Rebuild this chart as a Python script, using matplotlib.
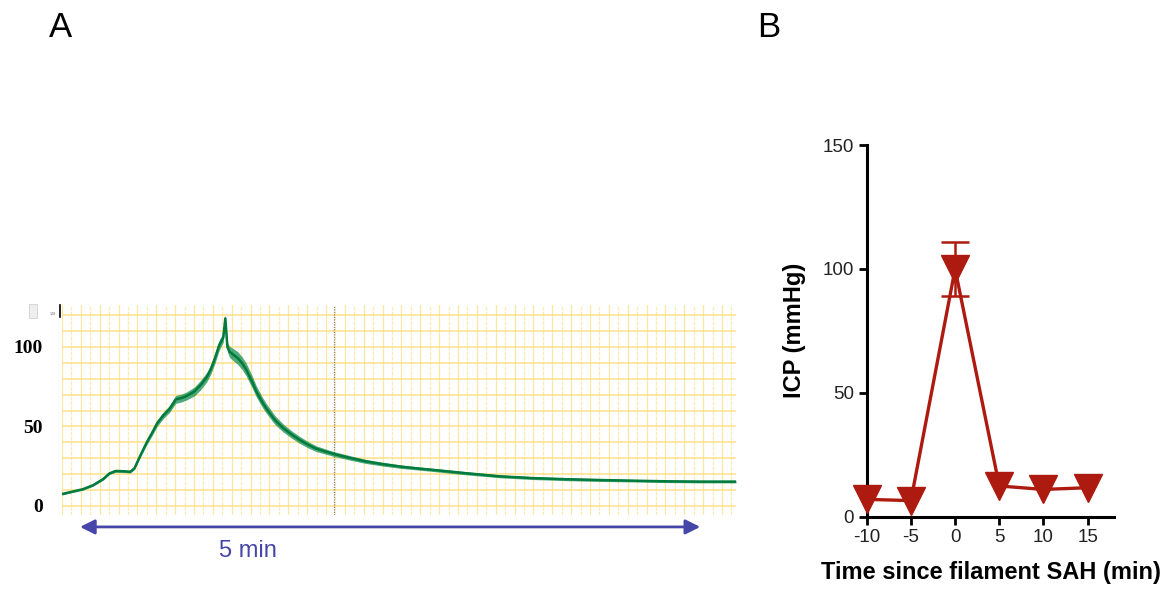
import matplotlib
matplotlib.use('Agg')
import matplotlib.pyplot as plt
from matplotlib.patches import Rectangle
from matplotlib.lines import Line2D
import numpy as np

plt.rcParams['font.family'] = ['Liberation Sans', 'DejaVu Sans']
plt.rcParams['axes.unicode_minus'] = False

# Panel A: ICP trace (time in s, pressure in mmHg)
trace_t = [0, 5, 10, 15, 20, 23, 26, 30, 33, 35, 38, 41, 44, 46, 49, 52, 55, 58,
           60, 64, 67, 70, 72, 74, 76, 78, 79, 80, 81, 83, 85, 87, 89, 92, 94,
           97, 99, 103, 107, 111, 115, 119, 123, 128, 132, 140, 147, 155, 164,
           172, 180, 196, 212, 228, 244, 260, 276, 292, 309, 326]
trace_v = [7.5, 9, 10.5, 13, 17, 20.5, 22, 21.8, 21.5, 23.6, 32, 40, 47, 52, 57,
           61, 67, 68, 69, 72, 76, 81, 86, 93, 101, 106, 118, 100, 97, 95, 93, 90,
           86, 78, 72, 65, 61, 54, 49, 45, 41.5, 38.5, 36, 34, 32.5, 30, 28, 26.3,
           24.7, 23.6, 22.6, 20.5, 18.6, 17.5, 16.8, 16.3, 15.9, 15.5, 15.3, 15.3]
# half-width of the noisy band around the trace
trace_noise = [0.6, 0.6, 0.6, 0.6, 0.7, 0.7, 0.8, 0.8, 0.8, 0.8, 1.2, 1.5, 1.8, 2.0, 2.0,
               2.2, 2.5, 2.5, 2.5, 2.8, 3.0, 3.0, 3.0, 3.2, 3.2, 3.0, 1.5, 3.0, 3.5, 3.8, 4.0, 4.0,
               4.0, 3.8, 3.5, 3.2, 3.0, 2.8, 2.5, 2.3, 2.2, 2.0, 1.8, 1.6, 1.5, 1.4, 1.3, 1.2,
               1.1, 1.0, 1.0, 1.0, 0.9, 0.9, 0.9, 0.9, 0.8, 0.8, 0.8, 0.8]
a_yticks = [0, 50, 100]
marker_t = 131.7      # dotted event marker
scale_bar = (8.7, 308.7)   # 5 min arrow

# Panel B: mean ICP +/- SEM
b_time = [-10, -5, 0, 5, 10, 15]
b_icp = [7.0, 6.5, 100, 12.4, 11, 11.7]
b_err = [0, 0, 11, 0, 0, 0]
b_yticks = [0, 50, 100, 150]
b_xticks = [-10, -5, 0, 5, 10, 15]

W, H = 1169, 594
fig = plt.figure(figsize=(W / 100, H / 100), dpi=100)

# ---------- panel A ----------
axA = fig.add_axes([62 / W, 1 - 515 / H, 674 / W, 210 / H])
axA.set_xlim(0, 326)
axA.set_ylim(-5.7, 126.4)

#chart-recorder grid
for i, k in enumerate(np.arange(0, 326, 4.56)):
    if i % 2:
        axA.axvline(k, color='#fdeab0', lw=0.9, ls=(0, (3, 1)), zorder=0)
    else:
        axA.axvline(k, color='#fce6a0', lw=0.9, zorder=0)
for v in range(0, 130, 10):
    axA.axhline(v, color='#fde08a', lw=1.1, zorder=0)

axA.axvline(marker_t, color='#808080', lw=0.9, ls=(0, (1, 1)), zorder=1)

t = np.array(trace_t)
v = np.array(trace_v)
n = np.array(trace_noise)
axA.fill_between(t, v - n, v + n, color='#138c50', alpha=0.75, lw=0, zorder=2)
axA.plot(t, v, color='#007a3d', lw=1.8, zorder=3)

for s in axA.spines.values():
    s.set_visible(False)
axA.set_xticks([])
axA.set_yticks(a_yticks)
axA.set_yticklabels([str(y) for y in a_yticks], family='Liberation Serif',
                    fontweight='bold', fontsize=14)
axA.tick_params(axis='y', length=0, pad=14)

axA.annotate('', xy=(scale_bar[1], -13.2), xytext=(scale_bar[0], -13.2),
             arrowprops=dict(arrowstyle='<|-|>', color='#4646a8', lw=2,
                             mutation_scale=22, shrinkA=0, shrinkB=0),
             annotation_clip=False)
axA.text(90, -28.3, '5 min', color='#4646a8', fontsize=17, ha='center',
         va='center', clip_on=False)

# small recorder widgets at the top-left
fig.patches.append(Rectangle((29 / W, 1 - 318 / H), 8 / W, 14 / H,
                             transform=fig.transFigure, facecolor='#eeeeee',
                             edgecolor='#d0d0d0', lw=0.6))
fig.text(50 / W, 1 - 314 / H, '120', fontsize=3, color='#555555',
         family='Liberation Serif', va='center')
fig.lines.append(Line2D([59.5 / W, 59.5 / W], [1 - 305 / H, 1 - 317 / H],
                        transform=fig.transFigure, color='black', lw=1.2))

# ---------- panel B ----------
axB = fig.add_axes([866.7 / W, 1 - 516.7 / H, 247.5 / W, 371.7 / H])
red = '#ad1a10'
axB.plot(b_time, b_icp, color=red, lw=2.4, marker='v', markersize=20,
         clip_on=False, zorder=3)
has_err = [i for i, e in enumerate(b_err) if e > 0]
axB.errorbar([b_time[i] for i in has_err], [b_icp[i] for i in has_err],
             yerr=[b_err[i] for i in has_err], fmt='none', ecolor=red,
             capsize=10, capthick=1.8, elinewidth=1.8, zorder=2)
axB.set_xlim(-10, 18)
axB.set_ylim(0, 150)
axB.set_xticks(b_xticks)
axB.set_yticks(b_yticks)
for side in ['top', 'right']:
    axB.spines[side].set_visible(False)
for side in ['left', 'bottom']:
    axB.spines[side].set_linewidth(2.2)
axB.tick_params(direction='out', length=6, width=2, labelsize=13.5, pad=3,
                labelcolor='#222222')
axB.set_ylabel('ICP (mmHg)', fontsize=17, fontweight='bold')
axB.yaxis.set_label_coords(-0.245, 0.5)
axB.set_xlabel('Time since filament SAH (min)', fontsize=17, fontweight='bold')
axB.xaxis.set_label_coords(0.5, -0.12)

fig.text(49 / W, 1 - 37 / H, 'A', fontsize=25, va='baseline')
fig.text(757 / W, 1 - 37 / H, 'B', fontsize=25, va='baseline')

fig.savefig('out.png', dpi=100)
